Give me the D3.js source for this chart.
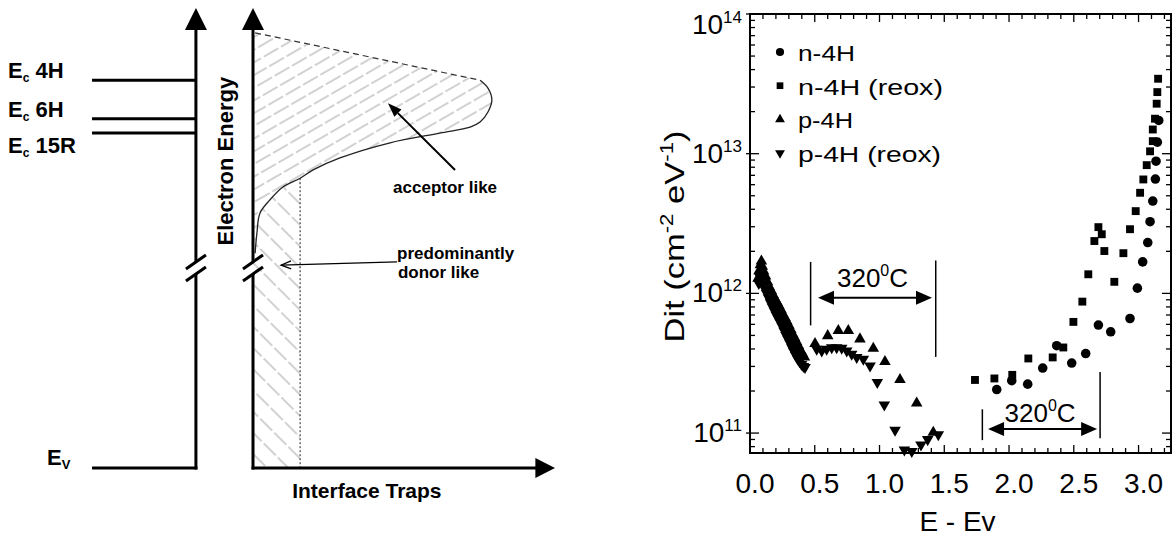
<!DOCTYPE html>
<html><head><meta charset="utf-8">
<script src="https://cdn.jsdelivr.net/npm/d3@7"></script>
<style>body{margin:0;background:#fff}svg{display:block}</style>
</head><body>
<svg id="chart" width="1173" height="537"></svg>
<script>
// ================= DATA =================
// Right panel: Dit vs E - Ev
const n4hE   = [1.905,2.021,2.144,2.260,2.368,2.484,2.592,2.690,2.785,2.934,2.991,3.032,3.071,3.089,3.110,3.130,3.135,3.145,3.156];
const n4hDit = [2.05e11,2.37e11,2.24e11,2.92e11,4.22e11,3.17e11,3.71e11,5.93e11,5.31e11,6.61e11,1.09e12,1.68e12,2.31e12,3.26e12,4.58e12,6.58e12,8.83e12,1.21e13,1.73e13];

const n4hReoxE   = [1.737,1.887,2.025,2.149,2.337,2.419,2.497,2.566,2.612,2.659,2.690,2.716,2.736,2.813,2.883,2.934,2.978,3.012,3.037,3.063,3.089,3.110,3.110,3.127,3.140,3.145,3.151];
const n4hReoxDit = [2.40e11,2.46e11,2.61e11,3.42e11,3.48e11,4.10e11,6.25e11,8.73e11,1.37e12,2.37e12,2.98e12,2.65e12,2.01e12,1.21e12,1.94e12,2.88e12,3.88e12,5.25e12,6.54e12,8.28e12,1.04e13,1.23e13,1.49e13,1.78e13,2.28e13,2.76e13,3.44e13];

const p4hE   = [0.062,0.070,0.080,0.088,0.095,0.105,0.120,0.135,0.150,0.165,0.180,0.195,0.210,0.225,0.240,0.255,0.270,0.285,0.300,0.315,0.330,0.345,0.360,0.375,0.390,0.405,0.420,
                0.502,0.600,0.682,0.759,0.849,0.952,1.042,1.158,1.287,1.415];
const p4hDit = [1.28e12,1.45e12,1.60e12,1.70e12,1.56e12,1.44e12,1.33e12,1.21e12,1.11e12,1.04e12,9.7e11,9.1e11,8.6e11,8.1e11,7.6e11,7.1e11,6.7e11,6.3e11,5.9e11,5.5e11,5.1e11,4.8e11,4.5e11,4.2e11,3.9e11,3.7e11,3.5e11,
                4.36e11,4.97e11,5.40e11,5.40e11,4.71e11,4.04e11,3.25e11,2.41e11,1.64e11,1.01e11];

const p4hReoxE   = [0.068,0.078,0.090,0.100,0.113,0.128,0.143,0.158,0.173,0.188,0.203,0.218,0.233,0.248,0.263,0.278,0.293,0.308,0.323,0.338,0.353,0.368,0.383,0.398,0.413,0.425,
                    0.515,0.554,0.592,0.631,0.669,0.708,0.747,0.785,0.824,0.875,0.927,0.983,1.037,1.120,1.192,1.249,1.320,1.372,1.454];
const p4hReoxDit = [1.18e12,1.30e12,1.26e12,1.17e12,1.08e12,1.00e12,9.3e11,8.6e11,8.0e11,7.5e11,7.0e11,6.6e11,6.2e11,5.8e11,5.4e11,5.0e11,4.7e11,4.4e11,4.1e11,3.85e11,3.6e11,3.4e11,3.25e11,3.1e11,3.0e11,2.95e11,
                    3.99e11,3.88e11,3.99e11,4.10e11,4.10e11,4.06e11,3.88e11,3.68e11,3.48e11,3.39e11,3.03e11,2.31e11,1.59e11,1.05e11,7.59e10,7.41e10,8.24e10,9.0e10,9.75e10];

const seriesNames = ["n-4H","n-4H (reox)","p-4H","p-4H (reox)"];
const xTickLabels = ["0.0","0.5","1.0","1.5","2.0","2.5","3.0"];
const yTickExps   = [11,12,13,14];

// 320°C annotations
const anneal1 = {xl:0.468, xr:1.434, lLo:5.9e11, lHi:1.68e12, rLo:3.51e11, rHi:1.72e12, ax0:0.525, ax1:1.405, ay:9.3e11, tx:0.946, ty:1.11e12};
const anneal2 = {xl:1.794, xr:2.703, lLo:8.9e10, lHi:1.48e11, rLo:9.2e10, rHi:2.74e11, ax0:1.838, ax1:2.680, ay:1.07e11, tx:2.24, ty:1.2e11};

// Left panel (schematic, normalized units)
const levelNames   = ["4H","6H","15R"];
const levelEnergy  = [0.843,0.759,0.728];
const levelLabelE  = [0.848,0.763,0.685];
const trapTopLine  = [[0.007,0.946],[0.752,0.843]];
const trapCurve    = [[0.752,0.843],[0.778,0.826],[0.791,0.800],[0.778,0.774],[0.752,0.752],[0.719,0.741],[0.619,0.728],[0.454,0.707],
                      [0.288,0.674],[0.199,0.648],[0.156,0.630],[0.099,0.611],[0.056,0.583],[0.023,0.554],[0.013,0.511],[0.007,0.467]];
const donorEdgeX   = 0.156;
const donorEdgeTop = 0.630;

// ================= DRAW =================
const svg = d3.select("#chart");
const FONT = "'Liberation Sans', Arial, Helvetica, sans-serif";

// ---------- RIGHT PANEL ----------
const x = d3.scaleLinear().domain([0, 3.266]).range([750, 1173]);
const y = d3.scaleLog().domain([7.2e10, 1e14]).range([453, 14]);
const L = 750, R = 1171, T = y(1e14), B = 453;

const rp = svg.append("g");
rp.append("rect").attr("x",L).attr("y",T).attr("width",R-L).attr("height",B-T)
  .attr("fill","none").attr("stroke","#000").attr("stroke-width",2);

// x ticks
const xMinor = d3.range(0, 33).map(i => i/10);
rp.selectAll(".xtb").data(xMinor).join("line")
  .attr("x1",d=>x(d)).attr("x2",d=>x(d))
  .attr("y1",B).attr("y2",(d,i)=> i%5===0 ? B-8 : B-5)
  .attr("stroke","#000").attr("stroke-width",1.3);
rp.selectAll(".xtt").data(xMinor).join("line")
  .attr("x1",d=>x(d)).attr("x2",d=>x(d))
  .attr("y1",T).attr("y2",(d,i)=> i%5===0 ? T+8 : T+5)
  .attr("stroke","#000").attr("stroke-width",1.3);
rp.selectAll(".xl").data(xTickLabels).join("text")
  .attr("x",d=>x(+d)+5).attr("y",B+40)
  .attr("text-anchor","middle").attr("font-family",FONT).attr("font-size",28).text(d=>d);

// y ticks
const yMajor = yTickExps.map(e => Math.pow(10,e));
const yMinor = [];
[10,11,12,13].forEach(e => { for (let m=2;m<=9;m++){ const v=m*Math.pow(10,e); if (v>=7.2e10 && v<=1e14) yMinor.push(v);} });
rp.selectAll(".ymj").data(yMajor).join("line")
  .attr("x1",L-4).attr("x2",L+9).attr("y1",d=>y(d)).attr("y2",d=>y(d))
  .attr("stroke","#000").attr("stroke-width",1.3);
rp.selectAll(".ymn").data(yMinor).join("line")
  .attr("x1",L).attr("x2",L+5).attr("y1",d=>y(d)).attr("y2",d=>y(d))
  .attr("stroke","#000").attr("stroke-width",1.3);
rp.selectAll(".ymjr").data(yMajor).join("line")
  .attr("x1",R-9).attr("x2",R).attr("y1",d=>y(d)).attr("y2",d=>y(d))
  .attr("stroke","#000").attr("stroke-width",1.3);
rp.selectAll(".ymnr").data(yMinor).join("line")
  .attr("x1",R-5).attr("x2",R).attr("y1",d=>y(d)).attr("y2",d=>y(d))
  .attr("stroke","#000").attr("stroke-width",1.3);

const ylab = rp.selectAll(".yl").data(yTickExps).join("text")
  .attr("x",742).attr("y",d=> y(Math.pow(10,d)) + (d===14 ? 20 : 9))
  .attr("text-anchor","end").attr("font-family",FONT).attr("font-size",28);
ylab.append("tspan").text("10");
ylab.append("tspan").attr("dy",-11).attr("font-size",17).text(d=>d);

// axis titles
rp.append("text").attr("x",(L+R)/2-3).attr("y",531).attr("text-anchor","middle")
  .attr("font-family",FONT).attr("font-size",28).text("E - Ev");
const yt = rp.append("text").attr("transform",`translate(684,${(T+B)/2+3}) rotate(-90)`)
  .attr("text-anchor","middle").attr("font-family",FONT).attr("font-size",28)
  .attr("textLength",212).attr("lengthAdjust","spacingAndGlyphs");
yt.append("tspan").text("Dit (cm");
yt.append("tspan").attr("dy",-11).attr("font-size",18).text("-2");
yt.append("tspan").attr("dy",11).text(" eV");
yt.append("tspan").attr("dy",-11).attr("font-size",18).text("-1");
yt.append("tspan").attr("dy",11).text(")");

// symbols
const symCircle = d3.symbol().type(d3.symbolCircle).size(72);
const symSquare = d3.symbol().type(d3.symbolSquare).size(62);
const symTri    = d3.symbol().type(d3.symbolTriangle).size(58);
const series = [
  {name:seriesNames[0], e:n4hE, d:n4hDit, path:symCircle(), rot:0},
  {name:seriesNames[1], e:n4hReoxE, d:n4hReoxDit, path:symSquare(), rot:0},
  {name:seriesNames[2], e:p4hE, d:p4hDit, path:symTri(), rot:0},
  {name:seriesNames[3], e:p4hReoxE, d:p4hReoxDit, path:symTri(), rot:180},
];
series.forEach(s => {
  rp.append("g").selectAll("path").data(s.e.map((e,i)=>[e,s.d[i]])).join("path")
    .attr("d",s.path)
    .attr("transform",d=>`translate(${x(d[0])},${y(d[1])}) rotate(${s.rot})`)
    .attr("fill","#000");
});

// legend
const legY0 = 54, legStep = 33.7;
series.forEach((s,i) => {
  const cy = legY0 + i*legStep;
  rp.append("path").attr("d",s.path).attr("transform",`translate(780,${cy-2}) rotate(${s.rot}) scale(0.85)`).attr("fill","#000");
  rp.append("text").attr("x",798).attr("y",cy+7).attr("font-family",FONT).attr("font-size",22)
    .attr("textLength", i%2===0 ? (i===0?57:55) : (i===1?145:143)).attr("lengthAdjust","spacingAndGlyphs").text(s.name);
});

// 320°C annotations
function annealMark(a){
  const g = rp.append("g");
  g.append("line").attr("x1",x(a.xl)).attr("x2",x(a.xl)).attr("y1",y(a.lLo)).attr("y2",y(a.lHi)).attr("stroke","#000").attr("stroke-width",1.5);
  g.append("line").attr("x1",x(a.xr)).attr("x2",x(a.xr)).attr("y1",y(a.rLo)).attr("y2",y(a.rHi)).attr("stroke","#000").attr("stroke-width",1.5);
  const ay = y(a.ay), x0 = x(a.ax0), x1 = x(a.ax1);
  g.append("line").attr("x1",x0+12).attr("x2",x1-12).attr("y1",ay).attr("y2",ay).attr("stroke","#000").attr("stroke-width",2);
  g.append("path").attr("d",`M${x0},${ay} L${x0+16},${ay-7} L${x0+16},${ay+7} Z`).attr("fill","#000");
  g.append("path").attr("d",`M${x1},${ay} L${x1-16},${ay-7} L${x1-16},${ay+7} Z`).attr("fill","#000");
  const t = g.append("text").attr("x",x(a.tx)).attr("y",y(a.ty)).attr("text-anchor","middle")
    .attr("font-family",FONT).attr("font-size",26);
  t.append("tspan").text("320");
  t.append("tspan").attr("dy",-11).attr("font-size",16).text("0");
  t.append("tspan").attr("dy",11).text("C");
}
annealMark(anneal1);
annealMark(anneal2);

// ---------- LEFT PANEL (schematic) ----------
const sx = d3.scaleLinear().domain([0,1]).range([253,555]);
const sy = d3.scaleLinear().domain([0,1]).range([468,8]);
const lp = svg.append("g");

const defs = svg.append("defs");
const pa = defs.append("pattern").attr("id","hatchA").attr("patternUnits","userSpaceOnUse")
  .attr("width",40).attr("height",11).attr("patternTransform","rotate(-30)");
pa.append("line").attr("x1",0).attr("y1",5).attr("x2",40).attr("y2",5)
  .attr("stroke","#9a9a9a").attr("stroke-width",0.9).attr("stroke-dasharray","17,3");
const pd = defs.append("pattern").attr("id","hatchD").attr("patternUnits","userSpaceOnUse")
  .attr("width",40).attr("height",15).attr("patternTransform","rotate(45)");
pd.append("line").attr("x1",0).attr("y1",7).attr("x2",40).attr("y2",7)
  .attr("stroke","#9a9a9a").attr("stroke-width",0.9).attr("stroke-dasharray","17,3");

const curveLine = d3.line().x(d=>sx(d[0])).y(d=>sy(d[1])).curve(d3.curveCatmullRom.alpha(0.5));
lp.append("path").attr("d", curveLine(trapCurve) + `L${sx(0)},${sy(trapCurve[trapCurve.length-1][1])} L${sx(0)},${sy(trapTopLine[0][1])} Z`)
  .attr("fill","url(#hatchA)");
const donorPts = trapCurve.filter(p => p[0] <= donorEdgeX);
lp.append("path").attr("d", `M${sx(0)},${sy(0)} L${sx(0)},${sy(donorPts[donorPts.length-1][1])} ` +
   curveLine(donorPts.slice().reverse()).replace(/^M/,"L") + ` L${sx(donorEdgeX)},${sy(0)} Z`)
  .attr("fill","url(#hatchD)");

lp.append("path").attr("d",curveLine(trapCurve)).attr("fill","none").attr("stroke","#222").attr("stroke-width",1.3);
lp.append("line").attr("x1",sx(trapTopLine[0][0])).attr("y1",sy(trapTopLine[0][1]))
  .attr("x2",sx(trapTopLine[1][0])).attr("y2",sy(trapTopLine[1][1]))
  .attr("stroke","#333").attr("stroke-width",1.2).attr("stroke-dasharray","6,4");
lp.append("line").attr("x1",sx(donorEdgeX)).attr("x2",sx(donorEdgeX)).attr("y1",sy(donorEdgeTop)).attr("y2",sy(0))
  .attr("stroke","#222").attr("stroke-width",1).attr("stroke-dasharray","2,2");

const bandAxisX = -0.189, levelStartX = -0.533, breakE = 0.435;
function vAxis(nx){
  const xx = sx(nx);
  const yb1 = sy(breakE)-6, yb2 = sy(breakE)+6;
  lp.append("line").attr("x1",xx).attr("x2",xx).attr("y1",sy(0)+1.5).attr("y2",yb2).attr("stroke","#000").attr("stroke-width",3);
  lp.append("line").attr("x1",xx).attr("x2",xx).attr("y1",yb1).attr("y2",sy(0.955)).attr("stroke","#000").attr("stroke-width",3);
  lp.append("path").attr("d",`M${xx},${sy(1)} L${xx-11},${sy(0.952)} L${xx+11},${sy(0.952)} Z`).attr("fill","#000");
  [yb1, yb2].forEach(yy => {
    lp.append("line").attr("x1",xx-10).attr("y1",yy+7).attr("x2",xx+10).attr("y2",yy-7).attr("stroke","#000").attr("stroke-width",3);
  });
}
vAxis(bandAxisX);
vAxis(0);
lp.append("line").attr("x1",sx(0)-1.5).attr("x2",sx(0.94)).attr("y1",sy(0)).attr("y2",sy(0)).attr("stroke","#000").attr("stroke-width",3);
lp.append("path").attr("d",`M${sx(1)},${sy(0)} L${sx(0.935)},${sy(0)-10} L${sx(0.935)},${sy(0)+10} Z`).attr("fill","#000");

levelEnergy.forEach((e,i) => {
  lp.append("line").attr("x1",sx(levelStartX)).attr("x2",sx(bandAxisX)).attr("y1",sy(e)).attr("y2",sy(e))
    .attr("stroke","#000").attr("stroke-width",3);
  const t = lp.append("text").attr("x",sx(-0.811)).attr("y",sy(levelLabelE[i]))
    .attr("font-family",FONT).attr("font-size",22).attr("font-weight","bold");
  t.append("tspan").text("E");
  t.append("tspan").attr("dy",4).attr("font-size",12).text("c");
  t.append("tspan").attr("dy",-4).text(" " + levelNames[i]);
});
lp.append("line").attr("x1",sx(levelStartX)).attr("x2",sx(bandAxisX)+1.5).attr("y1",sy(0)).attr("y2",sy(0))
  .attr("stroke","#000").attr("stroke-width",3);
const ev = lp.append("text").attr("x",sx(-0.682)).attr("y",sy(0.0065))
  .attr("font-family",FONT).attr("font-size",22).attr("font-weight","bold");
ev.append("tspan").text("E");
ev.append("tspan").attr("dy",4).attr("font-size",13).text("V");

lp.append("text").attr("transform",`translate(${sx(-0.066)},${sy(0.667)}) rotate(-90)`)
  .attr("text-anchor","middle").attr("font-family",FONT).attr("font-size",22).attr("font-weight","bold").text("Electron Energy");
lp.append("text").attr("x",sx(0.377)).attr("y",sy(-0.065)).attr("text-anchor","middle")
  .attr("font-family",FONT).attr("font-size",21).attr("font-weight","bold").text("Interface Traps");

lp.append("text").attr("x",sx(0.636)).attr("y",sy(0.598)).attr("text-anchor","middle")
  .attr("font-family",FONT).attr("font-size",17).attr("font-weight","bold").text("acceptor like");
lp.append("text").attr("x",sx(0.477)).attr("y",sy(0.454))
  .attr("font-family",FONT).attr("font-size",17).attr("font-weight","bold").text("predominantly");
lp.append("text").attr("x",sx(0.48)).attr("y",sy(0.413))
  .attr("font-family",FONT).attr("font-size",17).attr("font-weight","bold").text("donor like");

function arrow(p0, p1, filled){
  const x0=sx(p0[0]), y0=sy(p0[1]), x1=sx(p1[0]), y1=sy(p1[1]);
  const ang = Math.atan2(y1-y0, x1-x0), len = filled?14:10, w = filled?5:4;
  const bx = x1 - len*Math.cos(ang), by = y1 - len*Math.sin(ang);
  const nx = -Math.sin(ang), ny = Math.cos(ang);
  lp.append("line").attr("x1",x0).attr("y1",y0).attr("x2", filled?bx:x1).attr("y2", filled?by:y1)
    .attr("stroke","#000").attr("stroke-width", filled?2:1.3);
  if (filled) {
    lp.append("path").attr("d",`M${x1},${y1} L${bx+nx*w},${by+ny*w} L${bx-nx*w},${by-ny*w} Z`).attr("fill","#000");
  } else {
    lp.append("path").attr("d",`M${bx+nx*w},${by+ny*w} L${x1},${y1} L${bx-nx*w},${by-ny*w}`)
      .attr("fill","none").attr("stroke","#000").attr("stroke-width",1.3);
  }
}
arrow([0.669,0.648],[0.447,0.793], true);
arrow([0.477,0.448],[0.093,0.441], false);
</script>
</body></html>
